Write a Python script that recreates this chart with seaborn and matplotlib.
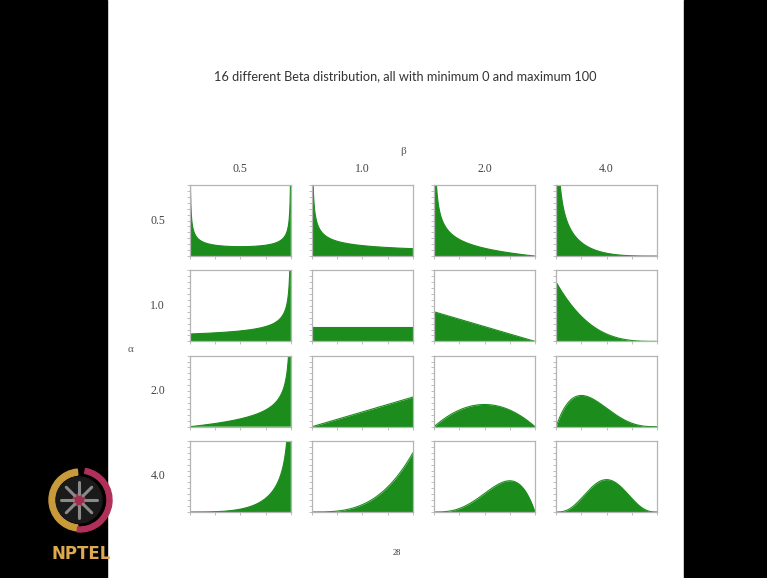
"""
Grid of 16 Beta distributions (min 0, max 100), drawn as a lecture slide.
"""

import math

import numpy as np
import matplotlib
matplotlib.use("Agg")
import matplotlib.pyplot as plt
from matplotlib.patches import Rectangle, Circle, Wedge
import seaborn as sns

ALPHAS = [0.5, 1.0, 2.0, 4.0]
BETAS = [0.5, 1.0, 2.0, 4.0]
ALPHA_LABELS = ["0.5", "1.0", "2.0", "4.0"]
BETA_LABELS = ["0.5", "1.0", "2.0", "4.0"]
X_MIN = 0
X_MAX = 100
TITLE = "16 different Beta distribution, all with minimum 0 and maximum 100"
PAGE = "28"

FILL_GREEN = "#1c8c1c"
SPINE_GREY = "#b4b4b4"


def beta_pdf(x, a, b):
    """Beta density on [X_MIN, X_MAX]."""
    span = X_MAX - X_MIN
    u = (x - X_MIN) / span
    norm = math.gamma(a + b) / (math.gamma(a) * math.gamma(b))
    with np.errstate(divide="ignore", invalid="ignore"):
        dens = norm * u ** (a - 1) * (1 - u) ** (b - 1)
    return dens / span


def draw_slide_frame(fig):
    """Black side bars, NPTEL logo and page number."""
    bg = fig.add_axes([0, 0, 1, 1], zorder=-1)
    bg.set_xlim(0, 767)
    bg.set_ylim(578, 0)
    bg.axis("off")

    bg.add_patch(Rectangle((0, 0), 107, 578, color="black"))
    bg.add_patch(Rectangle((684, 0), 83, 578, color="black"))

    # rough NPTEL logo
    bg.add_patch(Wedge((80, 500), 31, 95, 265, width=6, color="#c89a3a"))
    bg.add_patch(Wedge((80, 500), 32, -80, 95, width=5, color="#b0305a"))
    bg.add_patch(Circle((79, 500), 23, color="#1a1a1a"))
    for k in range(8):
        ang = k * math.pi / 4
        bg.plot([79 + 6 * math.cos(ang), 79 + 18 * math.cos(ang)],
                [500 + 6 * math.sin(ang), 500 + 18 * math.sin(ang)],
                color="#8a8a8a", lw=2.2, solid_capstyle="round")
    bg.add_patch(Circle((79, 500), 6, color="#a03050"))
    bg.text(81, 554, "NPTEL", color="#dca850", fontsize=12,
            fontweight="bold", family="DejaVu Sans", ha="center", va="center")

    bg.text(397, 553, PAGE, fontsize=6, family="Liberation Serif",
            color="#333333", ha="center", va="center")


def show_beta_grid():
    sns.set_style("white")
    fig = plt.figure(figsize=(7.67, 5.78), dpi=100)
    fig.patch.set_facecolor("white")
    draw_slide_frame(fig)

    axes = fig.subplots(
        len(ALPHAS), len(BETAS),
        gridspec_kw=dict(left=190 / 767, right=657 / 767,
                         top=1 - 185 / 578, bottom=1 - 512 / 578,
                         wspace=0.21, hspace=0.2),
    )

    x = np.linspace(X_MIN, X_MAX, 600)
    for i, a in enumerate(ALPHAS):
        for j, b in enumerate(BETAS):
            ax = axes[i, j]
            y = beta_pdf(x, a, b)
            y = np.nan_to_num(y, nan=1.0, posinf=1.0)
            ax.fill_between(x, 0, y, color=FILL_GREEN, lw=0)
            sns.lineplot(x=x, y=y, ax=ax, color=FILL_GREEN, lw=0.8)
            ax.set_xlim(X_MIN, X_MAX)
            ax.set_ylim(0, 0.048)
            ax.set_xticks(np.linspace(X_MIN, X_MAX, 5))
            ax.set_yticks(np.linspace(0, 0.048, 13))
            ax.set_xticklabels([])
            ax.set_yticklabels([])
            ax.set_xlabel("")
            ax.set_ylabel("")
            ax.tick_params(direction="out", length=2, width=0.6,
                           color=SPINE_GREY, left=True, bottom=True)
            for sp in ax.spines.values():
                sp.set_color(SPINE_GREY)
                sp.set_linewidth(0.9)

    # column / row headers
    for j, lab in enumerate(BETA_LABELS):
        axes[0, j].set_title(lab, fontsize=8.5, family="Liberation Serif",
                             color="#444444", pad=9)
    for i, lab in enumerate(ALPHA_LABELS):
        axes[i, 0].text(-0.32, 0.5, lab, transform=axes[i, 0].transAxes,
                        fontsize=8.5, family="Liberation Serif",
                        color="#444444", ha="center", va="center")

    fig.text(403 / 767, 1 - 152 / 578, "β", fontsize=8,
             family="Liberation Serif", color="#555555",
             ha="center", va="center")
    fig.text(131 / 767, 1 - 350 / 578, "α", fontsize=8,
             family="Liberation Serif", color="#555555",
             ha="center", va="center")
    fig.text(405 / 767, 1 - 76 / 578, TITLE, fontsize=9.2, family="Lato",
             color="#333333", ha="center", va="center")

    fig.savefig("out.png", dpi=100)


if __name__ == "__main__":
    show_beta_grid()
